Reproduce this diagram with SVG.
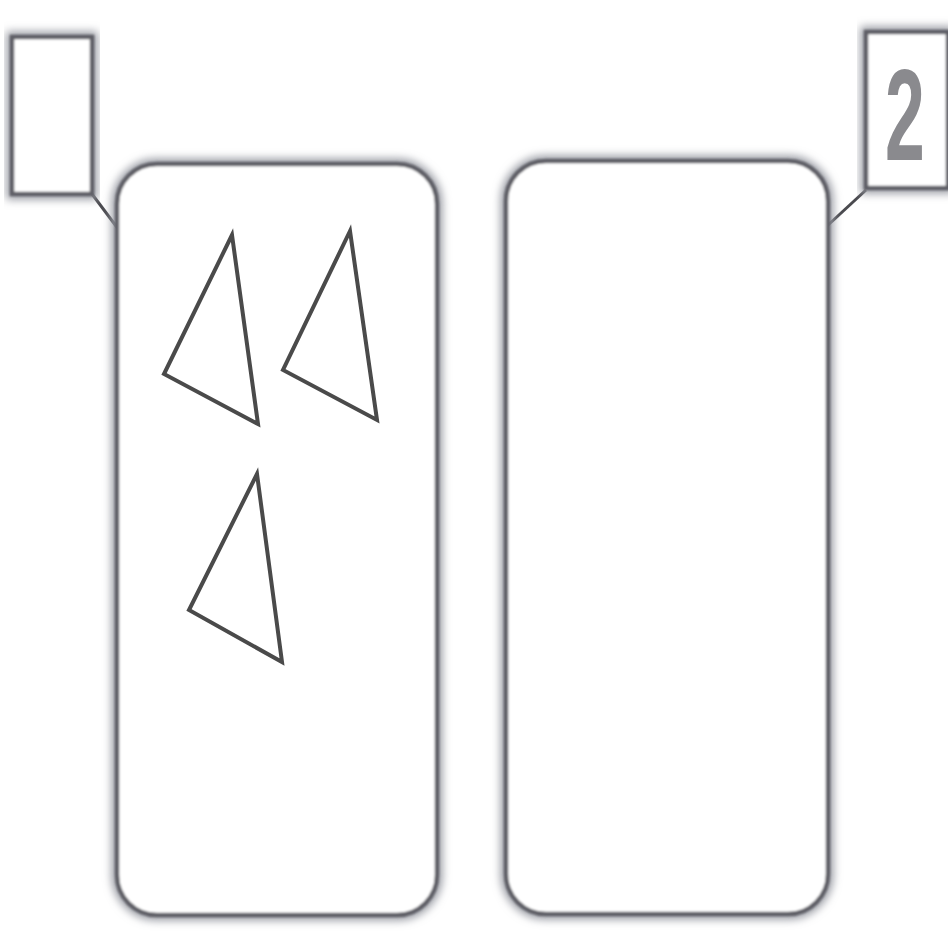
<svg xmlns="http://www.w3.org/2000/svg" width="948" height="931" viewBox="0 0 948 931">
<defs>
<filter id="soft" x="-10%" y="-10%" width="120%" height="120%"><feGaussianBlur stdDeviation="4"/></filter>
<filter id="edge" x="-5%" y="-5%" width="110%" height="110%"><feGaussianBlur stdDeviation="1"/></filter>
<style>
.shadow{fill:none;stroke:#9a9ca4;stroke-width:11;filter:url(#soft)}
.card{fill:#ffffff;stroke:#5e5f66;stroke-width:4.5;filter:url(#edge)}
.tri{fill:none;stroke:#4a4a4a;stroke-width:4;stroke-linejoin:miter}
.conn{fill:none;stroke:#4a4a4f;stroke-width:3}
.num{font-family:"Liberation Sans",Arial,sans-serif;font-weight:bold;font-size:130px;fill:#8a8a8e;text-anchor:middle}
</style>
</defs>
<rect width="948" height="931" fill="#ffffff"/>
<g id="connectors">
<line class="conn" x1="92" y1="194" x2="119" y2="230"/>
<line class="conn" x1="866" y1="190" x2="827" y2="226"/>
</g>
<g id="label1">
<rect class="shadow" x="12" y="37" width="80" height="157"/>
<rect class="card" x="12" y="37" width="80" height="157"/>
</g>
<g id="label2">
<rect class="shadow" x="866" y="32" width="82" height="156"/>
<rect class="card" x="866" y="32" width="82" height="156"/>
<text class="num" transform="translate(905,160) scale(0.55,1)" x="0" y="0">2</text>
</g>
<g id="card1">
<rect class="shadow" x="117" y="164" width="320" height="751" rx="40" ry="40"/>
<rect class="card" x="117" y="164" width="320" height="751" rx="40" ry="40"/>
<polygon class="tri" points="232,235 164,374 258,424"/>
<polygon class="tri" points="350,231 283,370 377,420"/>
<polygon class="tri" points="257,474 189,610 282,662"/>
</g>
<g id="card2">
<rect class="shadow" x="506" y="161" width="322" height="753" rx="40" ry="40"/>
<rect class="card" x="506" y="161" width="322" height="753" rx="40" ry="40"/>
</g>
</svg>
